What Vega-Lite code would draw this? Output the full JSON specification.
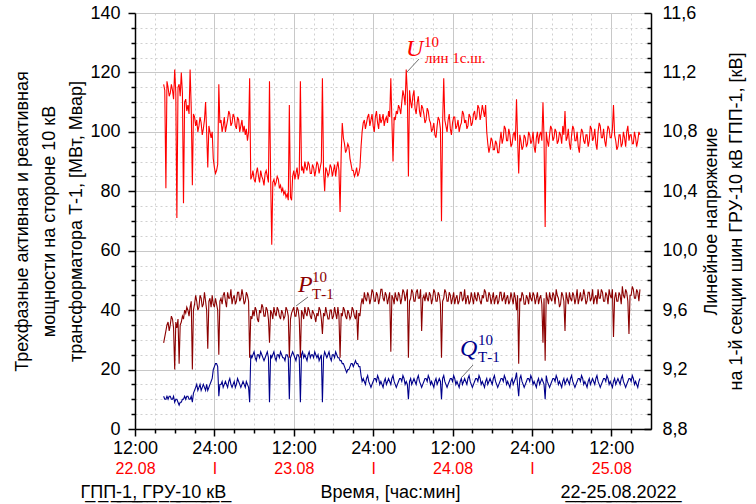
{
  "$schema": "https://vega.github.io/schema/vega-lite/v6.json",
  "width": 516,
  "height": 416,
  "autosize": "none",
  "padding": {"left": 135, "top": 13, "right": 105, "bottom": 75},
  "background": "white",
  "config": {
    "font": "Liberation Sans",
    "view": {"stroke": null},
    "axis": {
      "domainColor": "black", "domainWidth": 1.5, "tickColor": "black", "tickWidth": 1.5,
      "labelFont": "Liberation Sans", "labelFontSize": 18, "labelColor": "black",
      "titleFont": "Liberation Sans", "titleFontSize": 18, "titleFontWeight": "normal", "titleColor": "black",
      "gridColor": "#c8c8c8", "gridWidth": 1, "labelFlush": false, "labelOverlap": false
    }
  },
  "datasets": {
    "ts": [
      {"h":16.33,"U":11.12,"P":29,"Q":11},{"h":16.5,"U":11.08,"P":31,"Q":10},{"h":16.67,"U":10.42,"P":33,"Q":10},{"h":16.83,"U":11.14,"P":35,"Q":11},{"h":17.0,"U":11.10,"P":36,"Q":10},{"h":17.17,"U":11.04,"P":33,"Q":11},{"h":17.33,"U":11.06,"P":35,"Q":11},{"h":17.5,"U":11.12,"P":38,"Q":10},{"h":17.67,"U":11.08,"P":37,"Q":10},{"h":17.83,"U":11.02,"P":34,"Q":11},
      {"h":18.0,"U":11.22,"P":20,"Q":9},{"h":18.17,"U":11.06,"P":36,"Q":10},{"h":18.33,"U":10.22,"P":34,"Q":10},{"h":18.5,"U":11.10,"P":37,"Q":9},{"h":18.67,"U":11.12,"P":22,"Q":8},{"h":18.83,"U":11.04,"P":35,"Q":9},{"h":19.0,"U":11.20,"P":36,"Q":9},{"h":19.17,"U":11.06,"P":38,"Q":10},{"h":19.33,"U":10.32,"P":37,"Q":10},{"h":19.5,"U":11.00,"P":40,"Q":11},
      {"h":19.67,"U":11.02,"P":39,"Q":10},{"h":19.83,"U":10.94,"P":41,"Q":11},{"h":20.0,"U":10.98,"P":40,"Q":11},{"h":20.17,"U":10.92,"P":38,"Q":10},{"h":20.33,"U":11.22,"P":41,"Q":10},{"h":20.5,"U":10.96,"P":43,"Q":11},{"h":20.67,"U":10.44,"P":20,"Q":9},{"h":20.83,"U":10.92,"P":40,"Q":12},
      {"h":21.0,"U":10.90,"P":42,"Q":13},{"h":21.17,"U":10.84,"P":45,"Q":14},{"h":21.33,"U":10.88,"P":43,"Q":15},{"h":21.5,"U":10.80,"P":40,"Q":13},{"h":21.67,"U":10.84,"P":41,"Q":14},{"h":21.83,"U":10.90,"P":45,"Q":15},{"h":22.0,"U":10.86,"P":44,"Q":13},{"h":22.17,"U":10.78,"P":41,"Q":14},{"h":22.33,"U":10.82,"P":42,"Q":15},{"h":22.5,"U":10.88,"P":46,"Q":14},
      {"h":22.67,"U":11.00,"P":43,"Q":13},{"h":22.83,"U":10.80,"P":40,"Q":15},{"h":23.0,"U":10.56,"P":27,"Q":13},{"h":23.17,"U":10.84,"P":43,"Q":14},{"h":23.33,"U":10.80,"P":44,"Q":15},{"h":23.5,"U":10.76,"P":41,"Q":16},{"h":23.67,"U":10.80,"P":45,"Q":17},{"h":23.83,"U":10.62,"P":42,"Q":20},{"h":24.0,"U":10.56,"P":41,"Q":21},{"h":24.17,"U":10.52,"P":44,"Q":22},
      {"h":24.33,"U":10.54,"P":42,"Q":22},{"h":24.5,"U":10.58,"P":40,"Q":21},{"h":24.67,"U":11.12,"P":25,"Q":11},{"h":24.83,"U":10.86,"P":43,"Q":15},
      {"h":25.0,"U":10.88,"P":44,"Q":15},{"h":25.17,"U":10.80,"P":42,"Q":16},{"h":25.33,"U":10.84,"P":45,"Q":14},{"h":25.5,"U":10.90,"P":46,"Q":15},{"h":25.67,"U":10.80,"P":43,"Q":16},{"h":25.83,"U":10.84,"P":41,"Q":15},{"h":26.0,"U":10.88,"P":46,"Q":14},{"h":26.17,"U":10.94,"P":44,"Q":16},{"h":26.33,"U":10.92,"P":44,"Q":17},{"h":26.5,"U":10.84,"P":47,"Q":15},
      {"h":26.67,"U":10.86,"P":42,"Q":14},{"h":26.83,"U":10.92,"P":44,"Q":15},{"h":27.0,"U":10.90,"P":45,"Q":16},{"h":27.17,"U":10.84,"P":42,"Q":14},{"h":27.33,"U":10.82,"P":43,"Q":15},{"h":27.5,"U":10.90,"P":46,"Q":17},{"h":27.67,"U":10.88,"P":46,"Q":16},{"h":27.83,"U":10.80,"P":43,"Q":15},{"h":28.0,"U":10.84,"P":44,"Q":14},{"h":28.17,"U":10.88,"P":47,"Q":15},
      {"h":28.33,"U":10.80,"P":45,"Q":16},{"h":28.5,"U":10.84,"P":42,"Q":15},{"h":28.67,"U":10.78,"P":43,"Q":14},{"h":28.83,"U":10.82,"P":46,"Q":16},{"h":29.0,"U":10.74,"P":45,"Q":15},{"h":29.17,"U":10.80,"P":43,"Q":14},{"h":29.33,"U":11.16,"P":24,"Q":9},{"h":29.5,"U":10.48,"P":38,"Q":25},
      {"h":29.67,"U":10.50,"P":37,"Q":24},{"h":29.83,"U":10.54,"P":40,"Q":25},{"h":30.0,"U":10.48,"P":38,"Q":26},{"h":30.17,"U":10.46,"P":41,"Q":24},{"h":30.33,"U":10.52,"P":40,"Q":23},{"h":30.5,"U":10.56,"P":37,"Q":25},{"h":30.67,"U":10.50,"P":36,"Q":25},{"h":30.83,"U":10.46,"P":40,"Q":24},{"h":31.0,"U":10.54,"P":39,"Q":26},{"h":31.17,"U":10.50,"P":42,"Q":25},
      {"h":31.33,"U":10.48,"P":41,"Q":24},{"h":31.5,"U":10.44,"P":38,"Q":23},{"h":31.67,"U":10.52,"P":38,"Q":24},{"h":31.83,"U":10.54,"P":41,"Q":25},{"h":32.0,"U":10.50,"P":40,"Q":26},{"h":32.17,"U":10.46,"P":37,"Q":24},{"h":32.33,"U":11.14,"P":29,"Q":9},{"h":32.5,"U":10.50,"P":40,"Q":25},{"h":32.67,"U":10.04,"P":39,"Q":24},{"h":32.83,"U":10.46,"P":37,"Q":25},
      {"h":33.0,"U":10.48,"P":41,"Q":26},{"h":33.17,"U":10.44,"P":39,"Q":24},{"h":33.33,"U":10.46,"P":38,"Q":23},{"h":33.5,"U":10.50,"P":41,"Q":25},{"h":33.67,"U":10.48,"P":40,"Q":25},{"h":33.83,"U":10.42,"P":38,"Q":24},{"h":34.0,"U":10.44,"P":37,"Q":26},{"h":34.17,"U":10.40,"P":40,"Q":25},{"h":34.33,"U":10.42,"P":39,"Q":24},{"h":34.5,"U":10.38,"P":37,"Q":24},
      {"h":34.67,"U":10.40,"P":38,"Q":23},{"h":34.83,"U":10.36,"P":41,"Q":25},{"h":35.0,"U":10.38,"P":40,"Q":25},{"h":35.17,"U":10.34,"P":38,"Q":24},{"h":35.33,"U":10.98,"P":24,"Q":10},{"h":35.5,"U":10.36,"P":37,"Q":24},{"h":35.67,"U":10.34,"P":39,"Q":25},{"h":35.83,"U":10.50,"P":40,"Q":26},{"h":36.0,"U":10.54,"P":41,"Q":25},{"h":36.17,"U":10.48,"P":38,"Q":24},
      {"h":36.33,"U":10.52,"P":38,"Q":23},{"h":36.5,"U":10.56,"P":41,"Q":25},{"h":36.67,"U":10.48,"P":40,"Q":25},{"h":36.83,"U":10.52,"P":37,"Q":24},{"h":37.0,"U":11.14,"P":24,"Q":9},{"h":37.17,"U":10.54,"P":40,"Q":25},{"h":37.33,"U":10.56,"P":39,"Q":26},{"h":37.5,"U":10.52,"P":37,"Q":24},{"h":37.67,"U":10.60,"P":41,"Q":25},{"h":37.83,"U":10.56,"P":39,"Q":24},
      {"h":38.0,"U":10.54,"P":38,"Q":23},{"h":38.17,"U":10.60,"P":41,"Q":25},{"h":38.33,"U":10.58,"P":40,"Q":26},{"h":38.5,"U":10.52,"P":38,"Q":24},{"h":38.67,"U":10.52,"P":37,"Q":25},{"h":38.83,"U":10.58,"P":40,"Q":25},{"h":39.0,"U":10.56,"P":39,"Q":24},{"h":39.17,"U":10.50,"P":38,"Q":26},{"h":39.33,"U":10.54,"P":36,"Q":25},{"h":39.5,"U":10.60,"P":39,"Q":24},
      {"h":39.67,"U":10.58,"P":38,"Q":25},{"h":39.83,"U":10.52,"P":41,"Q":23},{"h":40.0,"U":10.56,"P":40,"Q":24},{"h":40.17,"U":10.60,"P":37,"Q":25},{"h":40.33,"U":11.16,"P":32,"Q":9},{"h":40.5,"U":10.54,"P":39,"Q":24},{"h":40.67,"U":10.40,"P":38,"Q":26},{"h":40.83,"U":10.56,"P":41,"Q":25},{"h":41.0,"U":10.54,"P":39,"Q":24},{"h":41.17,"U":10.50,"P":37,"Q":25},
      {"h":41.33,"U":10.52,"P":37,"Q":26},{"h":41.5,"U":10.58,"P":40,"Q":24},{"h":41.67,"U":10.56,"P":40,"Q":23},{"h":41.83,"U":10.50,"P":37,"Q":25},{"h":42.0,"U":10.54,"P":38,"Q":25},{"h":42.17,"U":10.58,"P":41,"Q":24},{"h":42.33,"U":10.50,"P":39,"Q":26},{"h":42.5,"U":10.56,"P":37,"Q":25},{"h":42.67,"U":10.60,"P":41,"Q":24},{"h":42.83,"U":10.54,"P":38,"Q":24},
      {"h":43.0,"U":10.26,"P":24,"Q":23},{"h":43.17,"U":10.66,"P":39,"Q":23},{"h":43.33,"U":10.86,"P":38,"Q":22},{"h":43.5,"U":10.76,"P":41,"Q":22},{"h":43.67,"U":10.72,"P":40,"Q":21},{"h":43.83,"U":10.66,"P":38,"Q":20},{"h":44.0,"U":10.68,"P":37,"Q":19},{"h":44.17,"U":10.72,"P":40,"Q":20},{"h":44.33,"U":10.70,"P":39,"Q":20},{"h":44.5,"U":10.62,"P":37,"Q":21},
      {"h":44.67,"U":10.58,"P":38,"Q":22},{"h":44.83,"U":10.54,"P":41,"Q":22},{"h":45.0,"U":10.54,"P":40,"Q":21},{"h":45.17,"U":10.50,"P":38,"Q":22},{"h":45.33,"U":10.52,"P":37,"Q":23},{"h":45.5,"U":10.56,"P":40,"Q":22},{"h":45.67,"U":10.50,"P":30,"Q":22},{"h":45.83,"U":10.52,"P":39,"Q":21},{"h":46.0,"U":10.56,"P":38,"Q":21},{"h":46.17,"U":10.70,"P":42,"Q":18},
      {"h":46.33,"U":10.80,"P":44,"Q":16},{"h":46.5,"U":10.86,"P":42,"Q":17},{"h":46.67,"U":10.88,"P":46,"Q":16},{"h":46.83,"U":10.82,"P":44,"Q":15},{"h":47.0,"U":10.86,"P":43,"Q":17},{"h":47.17,"U":10.90,"P":46,"Q":18},{"h":47.33,"U":10.92,"P":45,"Q":16},{"h":47.5,"U":10.84,"P":42,"Q":15},{"h":47.67,"U":10.88,"P":44,"Q":14},{"h":47.83,"U":10.92,"P":47,"Q":15},
      {"h":48.0,"U":10.84,"P":46,"Q":16},{"h":48.17,"U":10.80,"P":43,"Q":17},{"h":48.33,"U":10.90,"P":43,"Q":17},{"h":48.5,"U":10.94,"P":46,"Q":16},{"h":48.67,"U":10.86,"P":45,"Q":18},{"h":48.83,"U":10.82,"P":42,"Q":17},{"h":49.0,"U":10.92,"P":44,"Q":15},{"h":49.17,"U":10.86,"P":47,"Q":16},{"h":49.33,"U":10.88,"P":47,"Q":15},{"h":49.5,"U":10.92,"P":44,"Q":14},
      {"h":49.67,"U":10.84,"P":43,"Q":16},{"h":49.83,"U":10.88,"P":46,"Q":17},{"h":50.0,"U":10.90,"P":45,"Q":15},{"h":50.17,"U":10.86,"P":42,"Q":16},{"h":50.33,"U":10.94,"P":44,"Q":17},{"h":50.5,"U":10.90,"P":46,"Q":16},{"h":50.67,"U":11.16,"P":26,"Q":15},{"h":50.83,"U":10.88,"P":45,"Q":17},{"h":51.0,"U":10.60,"P":44,"Q":18},{"h":51.17,"U":10.90,"P":42,"Q":16},
      {"h":51.33,"U":10.88,"P":46,"Q":15},{"h":51.5,"U":10.94,"P":44,"Q":14},{"h":51.67,"U":10.92,"P":43,"Q":15},{"h":51.83,"U":10.98,"P":46,"Q":16},{"h":52.0,"U":10.96,"P":45,"Q":17},{"h":52.17,"U":10.92,"P":42,"Q":17},{"h":52.33,"U":11.00,"P":44,"Q":16},{"h":52.5,"U":11.08,"P":47,"Q":18},{"h":52.67,"U":11.04,"P":46,"Q":17},{"h":52.83,"U":10.98,"P":43,"Q":15},
      {"h":53.0,"U":11.22,"P":45,"Q":16},{"h":53.17,"U":11.06,"P":47,"Q":15},{"h":53.33,"U":10.50,"P":24,"Q":10},{"h":53.5,"U":11.08,"P":43,"Q":16},{"h":53.67,"U":11.00,"P":44,"Q":17},{"h":53.83,"U":10.96,"P":47,"Q":15},{"h":54.0,"U":11.04,"P":46,"Q":16},{"h":54.17,"U":11.08,"P":43,"Q":17},{"h":54.33,"U":10.96,"P":43,"Q":16},{"h":54.5,"U":10.92,"P":46,"Q":15},
      {"h":54.67,"U":11.00,"P":47,"Q":17},{"h":54.83,"U":11.04,"P":44,"Q":18},{"h":55.0,"U":10.94,"P":44,"Q":16},{"h":55.17,"U":10.90,"P":47,"Q":15},{"h":55.33,"U":10.98,"P":33,"Q":14},{"h":55.5,"U":10.96,"P":44,"Q":15},{"h":55.67,"U":10.92,"P":45,"Q":16},{"h":55.83,"U":10.86,"P":43,"Q":17},{"h":56.0,"U":10.88,"P":46,"Q":17},{"h":56.17,"U":10.96,"P":44,"Q":16},
      {"h":56.33,"U":10.94,"P":43,"Q":18},{"h":56.5,"U":10.88,"P":46,"Q":17},{"h":56.67,"U":10.86,"P":45,"Q":15},{"h":56.83,"U":10.80,"P":42,"Q":16},{"h":57.0,"U":10.82,"P":44,"Q":15},{"h":57.17,"U":10.86,"P":47,"Q":14},{"h":57.33,"U":10.78,"P":46,"Q":16},{"h":57.5,"U":10.76,"P":43,"Q":17},{"h":57.67,"U":10.84,"P":43,"Q":15},{"h":57.83,"U":10.90,"P":46,"Q":16},
      {"h":58.0,"U":10.88,"P":45,"Q":17},{"h":58.17,"U":10.82,"P":42,"Q":16},{"h":58.33,"U":10.20,"P":24,"Q":10},{"h":58.5,"U":10.86,"P":43,"Q":17},{"h":58.67,"U":11.16,"P":44,"Q":18},{"h":58.83,"U":10.88,"P":47,"Q":16},{"h":59.0,"U":10.84,"P":46,"Q":15},{"h":59.17,"U":10.80,"P":43,"Q":14},{"h":59.33,"U":10.88,"P":43,"Q":15},{"h":59.5,"U":10.92,"P":46,"Q":16},
      {"h":59.67,"U":10.82,"P":45,"Q":17},{"h":59.83,"U":10.78,"P":42,"Q":17},{"h":60.0,"U":10.86,"P":44,"Q":16},{"h":60.17,"U":10.90,"P":46,"Q":18},{"h":60.33,"U":10.90,"P":42,"Q":17},{"h":60.5,"U":10.82,"P":44,"Q":15},{"h":60.67,"U":10.84,"P":45,"Q":16},{"h":60.83,"U":10.88,"P":42,"Q":15},{"h":61.0,"U":10.80,"P":43,"Q":14},{"h":61.17,"U":10.84,"P":46,"Q":16},
      {"h":61.33,"U":10.86,"P":46,"Q":17},{"h":61.5,"U":10.94,"P":43,"Q":15},{"h":61.67,"U":10.92,"P":44,"Q":16},{"h":61.83,"U":10.86,"P":47,"Q":17},{"h":62.0,"U":10.88,"P":42,"Q":16},{"h":62.17,"U":10.82,"P":44,"Q":15},{"h":62.33,"U":10.84,"P":45,"Q":17},{"h":62.5,"U":10.92,"P":42,"Q":18},{"h":62.67,"U":10.90,"P":43,"Q":16},{"h":62.83,"U":10.84,"P":46,"Q":15},
      {"h":63.0,"U":10.86,"P":44,"Q":14},{"h":63.17,"U":10.92,"P":42,"Q":15},{"h":63.33,"U":10.94,"P":46,"Q":16},{"h":63.5,"U":10.88,"P":44,"Q":17},{"h":63.67,"U":10.90,"P":43,"Q":17},{"h":63.83,"U":10.98,"P":46,"Q":16},{"h":64.0,"U":10.96,"P":45,"Q":18},{"h":64.17,"U":10.88,"P":43,"Q":17},{"h":64.33,"U":10.92,"P":42,"Q":15},{"h":64.5,"U":10.98,"P":45,"Q":16},
      {"h":64.67,"U":10.94,"P":44,"Q":15},{"h":64.83,"U":10.90,"P":47,"Q":14},{"h":65.0,"U":10.98,"P":46,"Q":16},{"h":65.17,"U":10.80,"P":43,"Q":17},
      {"h":65.33,"U":10.72,"P":43,"Q":15},{"h":65.5,"U":10.66,"P":46,"Q":16},{"h":65.67,"U":10.70,"P":45,"Q":17},{"h":65.83,"U":10.76,"P":42,"Q":16},{"h":66.0,"U":10.74,"P":44,"Q":15},{"h":66.17,"U":10.68,"P":46,"Q":17},{"h":66.33,"U":10.68,"P":42,"Q":18},{"h":66.5,"U":10.74,"P":44,"Q":16},{"h":66.67,"U":10.72,"P":45,"Q":15},{"h":66.83,"U":10.66,"P":42,"Q":14},
      {"h":67.0,"U":10.66,"P":43,"Q":15},{"h":67.17,"U":10.74,"P":46,"Q":16},{"h":67.33,"U":10.80,"P":46,"Q":17},{"h":67.5,"U":10.72,"P":43,"Q":17},{"h":67.67,"U":10.76,"P":44,"Q":16},{"h":67.83,"U":10.84,"P":46,"Q":18},{"h":68.0,"U":10.82,"P":42,"Q":17},{"h":68.17,"U":10.74,"P":44,"Q":15},{"h":68.33,"U":10.74,"P":45,"Q":16},{"h":68.5,"U":10.82,"P":42,"Q":15},
      {"h":68.67,"U":10.78,"P":43,"Q":14},{"h":68.83,"U":10.70,"P":46,"Q":16},{"h":69.0,"U":10.72,"P":44,"Q":17},{"h":69.17,"U":10.78,"P":42,"Q":15},{"h":69.33,"U":10.80,"P":46,"Q":16},{"h":69.5,"U":10.74,"P":44,"Q":17},{"h":69.67,"U":11.02,"P":40,"Q":19},{"h":69.83,"U":10.76,"P":45,"Q":15},{"h":70.0,"U":10.52,"P":22,"Q":11},{"h":70.17,"U":10.78,"P":44,"Q":17},
      {"h":70.33,"U":10.74,"P":43,"Q":18},{"h":70.5,"U":10.68,"P":46,"Q":16},{"h":70.67,"U":10.70,"P":45,"Q":15},{"h":70.83,"U":10.78,"P":42,"Q":14},{"h":71.0,"U":10.76,"P":42,"Q":15},{"h":71.17,"U":10.70,"P":45,"Q":16},{"h":71.33,"U":10.72,"P":44,"Q":17},{"h":71.5,"U":10.80,"P":42,"Q":17},{"h":71.67,"U":10.78,"P":46,"Q":16},{"h":71.83,"U":10.72,"P":44,"Q":18},
      {"h":72.0,"U":10.74,"P":43,"Q":17},{"h":72.17,"U":10.80,"P":46,"Q":15},{"h":72.33,"U":10.70,"P":45,"Q":16},{"h":72.5,"U":10.66,"P":42,"Q":15},{"h":72.67,"U":10.76,"P":44,"Q":14},{"h":72.83,"U":10.80,"P":46,"Q":16},{"h":73.0,"U":10.72,"P":42,"Q":17},{"h":73.17,"U":10.78,"P":44,"Q":15},{"h":73.33,"U":10.80,"P":45,"Q":16},{"h":73.5,"U":10.74,"P":42,"Q":17},
      {"h":73.67,"U":11.00,"P":29,"Q":16},{"h":73.83,"U":10.76,"P":44,"Q":15},{"h":74.0,"U":10.16,"P":23,"Q":10},{"h":74.17,"U":10.80,"P":46,"Q":18},{"h":74.33,"U":10.74,"P":44,"Q":16},{"h":74.5,"U":10.70,"P":42,"Q":15},{"h":74.67,"U":10.78,"P":46,"Q":14},{"h":74.83,"U":10.84,"P":44,"Q":15},{"h":75.0,"U":10.82,"P":43,"Q":16},{"h":75.17,"U":10.74,"P":46,"Q":17},
      {"h":75.33,"U":10.76,"P":45,"Q":17},{"h":75.5,"U":10.82,"P":42,"Q":16},{"h":75.67,"U":10.80,"P":47,"Q":18},{"h":75.83,"U":10.72,"P":45,"Q":17},{"h":76.0,"U":10.74,"P":44,"Q":15},{"h":76.17,"U":10.80,"P":41,"Q":16},{"h":76.33,"U":10.78,"P":42,"Q":15},{"h":76.5,"U":10.72,"P":46,"Q":14},{"h":76.67,"U":10.84,"P":45,"Q":16},{"h":76.83,"U":10.78,"P":43,"Q":17},
      {"h":77.0,"U":10.94,"P":33,"Q":15},{"h":77.17,"U":10.74,"P":46,"Q":16},{"h":77.33,"U":10.76,"P":44,"Q":17},{"h":77.5,"U":10.82,"P":42,"Q":16},{"h":77.67,"U":10.72,"P":46,"Q":15},{"h":77.83,"U":10.68,"P":44,"Q":17},{"h":78.0,"U":10.78,"P":43,"Q":18},{"h":78.17,"U":10.84,"P":46,"Q":16},{"h":78.33,"U":10.82,"P":45,"Q":15},{"h":78.5,"U":10.74,"P":42,"Q":14},
      {"h":78.67,"U":10.74,"P":44,"Q":15},{"h":78.83,"U":10.80,"P":47,"Q":16},{"h":79.0,"U":10.70,"P":42,"Q":17},{"h":79.17,"U":10.66,"P":44,"Q":17},{"h":79.33,"U":10.76,"P":46,"Q":16},{"h":79.5,"U":10.82,"P":43,"Q":18},{"h":79.67,"U":10.80,"P":44,"Q":17},{"h":79.83,"U":10.74,"P":47,"Q":15},{"h":80.0,"U":10.72,"P":45,"Q":16},{"h":80.17,"U":10.78,"P":42,"Q":15},
      {"h":80.33,"U":10.78,"P":43,"Q":14},{"h":80.5,"U":10.70,"P":46,"Q":16},{"h":80.67,"U":10.74,"P":46,"Q":17},{"h":80.83,"U":10.84,"P":43,"Q":15},{"h":81.0,"U":10.82,"P":44,"Q":16},{"h":81.17,"U":10.74,"P":47,"Q":17},{"h":81.33,"U":10.76,"P":42,"Q":16},{"h":81.5,"U":10.82,"P":44,"Q":15},{"h":81.67,"U":10.72,"P":45,"Q":17},{"h":81.83,"U":10.68,"P":42,"Q":18},
      {"h":82.0,"U":10.80,"P":47,"Q":16},{"h":82.17,"U":10.86,"P":44,"Q":15},{"h":82.33,"U":10.84,"P":44,"Q":14},{"h":82.5,"U":10.76,"P":47,"Q":15},{"h":82.67,"U":10.76,"P":46,"Q":16},{"h":82.83,"U":10.82,"P":43,"Q":17},{"h":83.0,"U":10.74,"P":43,"Q":17},{"h":83.17,"U":10.70,"P":46,"Q":16},{"h":83.33,"U":10.78,"P":45,"Q":18},{"h":83.5,"U":10.84,"P":42,"Q":17},
      {"h":83.67,"U":10.82,"P":47,"Q":15},{"h":83.83,"U":10.76,"P":45,"Q":16},{"h":84.0,"U":10.76,"P":44,"Q":15},{"h":84.17,"U":10.82,"P":47,"Q":14},{"h":84.33,"U":10.98,"P":31,"Q":16},{"h":84.5,"U":10.78,"P":44,"Q":17},{"h":84.67,"U":10.74,"P":46,"Q":15},{"h":84.83,"U":10.68,"P":43,"Q":16},{"h":85.0,"U":10.70,"P":43,"Q":17},{"h":85.17,"U":10.78,"P":46,"Q":16},
      {"h":85.33,"U":10.78,"P":45,"Q":15},{"h":85.5,"U":10.70,"P":42,"Q":17},{"h":85.67,"U":10.72,"P":48,"Q":18},{"h":85.83,"U":10.80,"P":45,"Q":16},{"h":86.0,"U":10.76,"P":44,"Q":15},{"h":86.17,"U":10.70,"P":47,"Q":14},{"h":86.33,"U":10.80,"P":46,"Q":15},{"h":86.5,"U":10.84,"P":43,"Q":16},{"h":86.67,"U":10.74,"P":32,"Q":17},{"h":86.83,"U":10.78,"P":45,"Q":17},
      {"h":87.0,"U":10.78,"P":45,"Q":16},{"h":87.17,"U":10.72,"P":48,"Q":18},{"h":87.33,"U":10.72,"P":47,"Q":17},{"h":87.5,"U":10.80,"P":44,"Q":15},{"h":87.67,"U":10.76,"P":44,"Q":16},{"h":87.83,"U":10.70,"P":47,"Q":15},{"h":88.0,"U":10.74,"P":46,"Q":14},{"h":88.17,"U":10.80,"P":43,"Q":16},{"h":88.33,"U":10.78,"P":47,"Q":17}
    ],
    "unote": [{"h": 52.97, "kV": 11.31}],
    "uleader": [{"h": 53.12, "h2": 54.93, "kV": 11.203, "kV2": 11.29}],
    "pqnote": [{"s": "P", "h": 36.64, "v": 46.1}, {"s": "Q", "h": 61.13, "v": 24.57}],
    "pqleader": [{"s": "P", "h": 36.34, "h2": 38.15, "v": 41.39, "v2": 44.42}, {"s": "Q", "h": 61.43, "h2": 63.1, "v": 17.5, "v2": 21.54}]
  },
  "data": {"name": "ts"},
  "layer": [
    {
      "mark": {"type": "line", "color": "#8c0000", "strokeWidth": 1.1},
      "encoding": {
        "x": {"field": "h", "type": "quantitative", "scale": {"domain": [12, 90], "nice": false, "zero": false},
          "axis": {"orient": "bottom", "values": [12, 24, 36, 48, 60, 72, 84], "labelExpr": "datum.value % 24 == 0 ? '24:00' : '12:00'", "tickSize": 7, "labelPadding": 3, "grid": true,
            "title": "Время, [час:мин]", "titleX": 255, "titleY": 68, "titleAlign": "center", "titleBaseline": "alphabetic"}},
        "y": {"field": "P", "type": "quantitative", "scale": {"domain": [0, 140], "nice": false, "zero": false},
          "axis": {"orient": "left", "values": [0, 20, 40, 60, 80, 100, 120, 140], "tickSize": 7, "labelPadding": 8, "grid": true,
            "title": ["Трехфазные активная и реактивная", "мощности на стороне 10 кВ", "трансформатора Т-1, [МВт, Мвар]"], "titleLineHeight": 27, "titlePadding": 4}}
      }
    },
    {
      "mark": {"type": "line", "color": "#00008b", "strokeWidth": 1.1},
      "encoding": {
        "x": {"field": "h", "type": "quantitative", "scale": {"domain": [12, 90], "nice": false, "zero": false},
          "axis": {"orient": "bottom", "values": [15, 18, 21, 27, 30, 33, 39, 42, 45, 51, 54, 57, 63, 66, 69, 75, 78, 81, 87], "labels": false, "domain": false, "tickSize": 4, "grid": true, "gridDash": [2, 3], "gridColor": "#d0d0d0",
            "title": "Г\u0332П\u0332П\u0332-\u03321\u0332,\u0332 \u0332Г\u0332Р\u0332У\u0332-\u03321\u03320\u0332 \u0332к\u0332В\u0332", "titleX": -55, "titleY": 68, "titleAlign": "left", "titleBaseline": "alphabetic"}},
        "y": {"field": "Q", "type": "quantitative", "scale": {"domain": [0, 140], "nice": false, "zero": false},
          "axis": {"orient": "left", "values": [5, 10, 15, 25, 30, 35, 45, 50, 55, 65, 70, 75, 85, 90, 95, 105, 110, 115, 125, 130, 135], "labels": false, "domain": false, "tickSize": 4, "grid": true, "gridDash": [2, 3], "gridColor": "#d0d0d0", "title": null}}
      }
    },
    {
      "mark": {"type": "line", "color": "#ff0000", "strokeWidth": 1.1},
      "encoding": {
        "x": {"field": "h", "type": "quantitative", "scale": {"domain": [12, 90], "nice": false, "zero": false},
          "axis": {"orient": "bottom", "values": [12, 24, 36, 48, 60, 72, 84], "labelExpr": "datum.value == 12 ? '22.08' : datum.value == 36 ? '23.08' : datum.value == 60 ? '24.08' : datum.value == 84 ? '25.08' : 'I'", "labelColor": "#ff0000", "labelFontSize": 16, "ticks": false, "domain": false, "grid": false, "labelPadding": 31,
            "title": "2\u03322\u0332-\u03322\u03325\u0332.\u03320\u03328\u0332.\u03322\u03320\u03322\u03322\u0332", "titleX": 541, "titleY": 68, "titleAlign": "right", "titleBaseline": "alphabetic"}},
        "y": {"field": "U", "type": "quantitative", "scale": {"domain": [8.8, 11.6], "nice": false, "zero": false},
          "axis": {"orient": "right", "values": [8.8, 9.2, 9.6, 10, 10.4, 10.8, 11.2, 11.6], "format": ".1f", "labelExpr": "replace(datum.label, '.', ',')", "tickSize": -7, "labelPadding": 18, "grid": false,
            "title": ["Линейное напряжение", "на 1-й секции шин ГРУ-10 кВ ГПП-1, [кВ]"], "titleAngle": 270, "titleBaseline": "top", "titleAlign": "center", "titleLineHeight": 25, "titleX": 51, "titleY": 208}}
      }
    },
    {
      "data": {"name": "unote"},
      "mark": {"type": "text", "text": "U", "font": "Liberation Serif", "fontStyle": "italic", "fontSize": 24, "color": "#ff0000", "align": "left", "baseline": "alphabetic"},
      "encoding": {
        "x": {"field": "h", "type": "quantitative", "scale": {"domain": [12, 90], "nice": false, "zero": false}, "axis": null},
        "y": {"field": "kV", "type": "quantitative", "scale": {"domain": [8.8, 11.6], "nice": false, "zero": false},
          "axis": {"orient": "right", "values": [8.9, 9, 9.1, 9.3, 9.4, 9.5, 9.7, 9.8, 9.9, 10.1, 10.2, 10.3, 10.5, 10.6, 10.7, 10.9, 11, 11.1, 11.3, 11.4, 11.5], "labels": false, "domain": false, "grid": false, "tickSize": -4, "title": null}}
      }
    },
    {
      "data": {"name": "unote"},
      "mark": {"type": "text", "text": "10", "font": "Liberation Serif", "fontSize": 15, "color": "#ff0000", "align": "left", "baseline": "alphabetic", "dx": 18, "dy": -9},
      "encoding": {
        "x": {"field": "h", "type": "quantitative", "scale": {"domain": [12, 90], "nice": false, "zero": false}, "axis": null},
        "y": {"field": "kV", "type": "quantitative", "scale": {"domain": [8.8, 11.6], "nice": false, "zero": false}, "axis": null}
      }
    },
    {
      "data": {"name": "unote"},
      "mark": {"type": "text", "text": "лин 1с.ш.", "font": "Liberation Serif", "fontSize": 15, "color": "#ff0000", "align": "left", "baseline": "alphabetic", "dx": 19, "dy": 7},
      "encoding": {
        "x": {"field": "h", "type": "quantitative", "scale": {"domain": [12, 90], "nice": false, "zero": false}, "axis": null},
        "y": {"field": "kV", "type": "quantitative", "scale": {"domain": [8.8, 11.6], "nice": false, "zero": false}, "axis": null}
      }
    },
    {
      "data": {"name": "uleader"},
      "mark": {"type": "rule", "color": "#707070", "strokeWidth": 1},
      "encoding": {
        "x": {"field": "h", "type": "quantitative", "scale": {"domain": [12, 90], "nice": false, "zero": false}, "axis": null},
        "x2": {"field": "h2"},
        "y": {"field": "kV", "type": "quantitative", "scale": {"domain": [8.8, 11.6], "nice": false, "zero": false}, "axis": null},
        "y2": {"field": "kV2"}
      }
    },
    {
      "data": {"name": "pqnote"},
      "mark": {"type": "text", "font": "Liberation Serif", "fontStyle": "italic", "fontSize": 24, "align": "left", "baseline": "alphabetic"},
      "encoding": {
        "x": {"field": "h", "type": "quantitative", "scale": {"domain": [12, 90], "nice": false, "zero": false}, "axis": null},
        "y": {"field": "v", "type": "quantitative", "scale": {"domain": [0, 140], "nice": false, "zero": false}, "axis": null},
        "text": {"field": "s"},
        "color": {"field": "s", "type": "nominal", "scale": {"domain": ["P", "Q"], "range": ["#8c0000", "#00008b"]}, "legend": null}
      }
    },
    {
      "data": {"name": "pqnote"},
      "transform": [{"filter": {"field": "s", "equal": "P"}}],
      "mark": {"type": "text", "text": "10", "font": "Liberation Serif", "fontSize": 15, "color": "#8c0000", "align": "left", "baseline": "alphabetic", "dx": 14, "dy": -10},
      "encoding": {
        "x": {"field": "h", "type": "quantitative", "scale": {"domain": [12, 90], "nice": false, "zero": false}, "axis": null},
        "y": {"field": "v", "type": "quantitative", "scale": {"domain": [0, 140], "nice": false, "zero": false}, "axis": null}
      }
    },
    {
      "data": {"name": "pqnote"},
      "transform": [{"filter": {"field": "s", "equal": "P"}}],
      "mark": {"type": "text", "text": "Т-1", "font": "Liberation Serif", "fontSize": 15, "color": "#8c0000", "align": "left", "baseline": "alphabetic", "dx": 14, "dy": 7},
      "encoding": {
        "x": {"field": "h", "type": "quantitative", "scale": {"domain": [12, 90], "nice": false, "zero": false}, "axis": null},
        "y": {"field": "v", "type": "quantitative", "scale": {"domain": [0, 140], "nice": false, "zero": false}, "axis": null}
      }
    },
    {
      "data": {"name": "pqnote"},
      "transform": [{"filter": {"field": "s", "equal": "Q"}}],
      "mark": {"type": "text", "text": "10", "font": "Liberation Serif", "fontSize": 15, "color": "#00008b", "align": "left", "baseline": "alphabetic", "dx": 18, "dy": -11},
      "encoding": {
        "x": {"field": "h", "type": "quantitative", "scale": {"domain": [12, 90], "nice": false, "zero": false}, "axis": null},
        "y": {"field": "v", "type": "quantitative", "scale": {"domain": [0, 140], "nice": false, "zero": false}, "axis": null}
      }
    },
    {
      "data": {"name": "pqnote"},
      "transform": [{"filter": {"field": "s", "equal": "Q"}}],
      "mark": {"type": "text", "text": "Т-1", "font": "Liberation Serif", "fontSize": 15, "color": "#00008b", "align": "left", "baseline": "alphabetic", "dx": 18, "dy": 6},
      "encoding": {
        "x": {"field": "h", "type": "quantitative", "scale": {"domain": [12, 90], "nice": false, "zero": false}, "axis": null},
        "y": {"field": "v", "type": "quantitative", "scale": {"domain": [0, 140], "nice": false, "zero": false}, "axis": null}
      }
    },
    {
      "data": {"name": "pqleader"},
      "mark": {"type": "rule", "color": "#707070", "strokeWidth": 1},
      "encoding": {
        "x": {"field": "h", "type": "quantitative", "scale": {"domain": [12, 90], "nice": false, "zero": false}, "axis": null},
        "x2": {"field": "h2"},
        "y": {"field": "v", "type": "quantitative", "scale": {"domain": [0, 140], "nice": false, "zero": false}, "axis": null},
        "y2": {"field": "v2"}
      }
    }
  ],
  "resolve": {"scale": {"y": "independent"}, "axis": {"x": "independent", "y": "independent"}}
}
